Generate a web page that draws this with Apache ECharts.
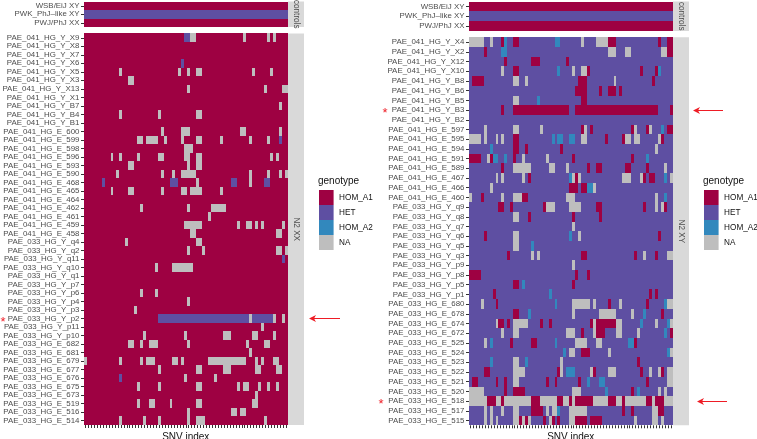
<!DOCTYPE html>
<html><head><meta charset="utf-8">
<style>html,body{margin:0;padding:0;background:#fff}#c{width:757px;height:439px}</style>
<script src="https://cdn.jsdelivr.net/npm/echarts@6/dist/echarts.min.js"></script>
</head><body><div id="c"></div>
<script>
const genotypes = ['HOM_A1','HET','HOM_A2','NA'];
const genoColors = ['#9E0142','#5E4FA2','#3288BD','#BEBEBE'];
const columnCount = 69;
const controlRowsLeft = ['WSB/EiJ XY','PWK_PhJ\u2013like XY','PWJ/PhJ XX'];
const controlValues = [0,1,0];

// run codes: A = HOM_A1, H = HET, B = HOM_A2, N = NA; "N34-35" = columns 34..35
const leftRows = ['PAE_041_HG_Y_X9','PAE_041_HG_Y_X8','PAE_041_HG_Y_X7','PAE_041_HG_Y_X6','PAE_041_HG_Y_X5','PAE_041_HG_Y_X3','PAE_041_HG_Y_X13','PAE_041_HG_Y_X1','PAE_041_HG_Y_B7','PAE_041_HG_Y_B4','PAE_041_HG_Y_B1','PAE_041_HG_E_600','PAE_041_HG_E_599','PAE_041_HG_E_598','PAE_041_HG_E_596','PAE_041_HG_E_593','PAE_041_HG_E_590','PAE_041_HG_E_468','PAE_041_HG_E_465','PAE_041_HG_E_464','PAE_041_HG_E_462','PAE_041_HG_E_461','PAE_041_HG_E_459','PAE_041_HG_E_458','PAE_033_HG_Y_q4','PAE_033_HG_Y_q2','PAE_033_HG_Y_q11','PAE_033_HG_Y_q10','PAE_033_HG_Y_q1','PAE_033_HG_Y_p7','PAE_033_HG_Y_p6','PAE_033_HG_Y_p4','PAE_033_HG_Y_p3','PAE_033_HG_Y_p2','PAE_033_HG_Y_p11','PAE_033_HG_Y_p10','PAE_033_HG_E_682','PAE_033_HG_E_681','PAE_033_HG_E_679','PAE_033_HG_E_677','PAE_033_HG_E_676','PAE_033_HG_E_675','PAE_033_HG_E_673','PAE_033_HG_E_519','PAE_033_HG_E_516','PAE_033_HG_E_514'];
const leftRuns = [
'H34-35 N36-37 N54 N62 N64','','','H33','N12 N32 N35 N38-39 N57 N63','N15-16','N35 N61 N67-68','','N66','N12 N25 N38-39','',
'N26 N33-35 N53-54 N66','N18-19 N21-24 N27 N33 N38-39 N46 N56 N62 H66','N34-36','N9 N12 N18 N25-26 N34-35 N38-39 N63 N65','N15-16 N35 N38-39','N11 N26 N30 N33-37 N56 N62 N66 N68','H6 H29-31 N38 H50-51 N56 H61-62','N9 N15-16 N26 N33-34 N36-39 N46','','N19 N35 N43-47','N42','N34-39 N52 N55-56 N58 N60 N67','N36-37 N65-66',
'N14 N38-39','N35 N40 N65-66 N68','H67','N24 N30-36','','','N19 N24','N35','N17','H25-55 N56 H57-63 N64 N67','N60','N20 N34 N47-49 N57-58 N64',
'N15-16 N19 N22-24 N35 N55 N61-62','N56','N0 N12 N19 N21-23 N30-31 N33 N42-54 N58 N60 N64-65','N25 N38-39 N47-49 N58-59 N65-66','H12 N34 N44','N18 N25 N38-39 N52 N54-55 N59 N62 N65','N58','N18 N22-23 N29 N38-39 N57-58','N35 N50-51 N53-54','N12 N20 N25 N35 N38-40 N61'
];
const rightRows = ['PAE_041_HG_Y_X4','PAE_041_HG_Y_X2','PAE_041_HG_Y_X12','PAE_041_HG_Y_X10','PAE_041_HG_Y_B8','PAE_041_HG_Y_B6','PAE_041_HG_Y_B5','PAE_041_HG_Y_B3','PAE_041_HG_Y_B2','PAE_041_HG_E_597','PAE_041_HG_E_595','PAE_041_HG_E_594','PAE_041_HG_E_591','PAE_041_HG_E_589','PAE_041_HG_E_467','PAE_041_HG_E_466','PAE_041_HG_E_460','PAE_033_HG_Y_q9','PAE_033_HG_Y_q8','PAE_033_HG_Y_q7','PAE_033_HG_Y_q6','PAE_033_HG_Y_q5','PAE_033_HG_Y_q3','PAE_033_HG_Y_p9','PAE_033_HG_Y_p8','PAE_033_HG_Y_p5','PAE_033_HG_Y_p1','PAE_033_HG_E_680','PAE_033_HG_E_678','PAE_033_HG_E_674','PAE_033_HG_E_672','PAE_033_HG_E_525','PAE_033_HG_E_524','PAE_033_HG_E_523','PAE_033_HG_E_522','PAE_033_HG_E_521','PAE_033_HG_E_520','PAE_033_HG_E_518','PAE_033_HG_E_517','PAE_033_HG_E_515'];
const rightRuns = [
'N0-4 N7 A11 B12 A15-16 B29-30 N38 N43-46 A47-49 A64 A67-68','A5 B11-12 N47-49 N53-54 N65-66 A67-68','A12 A21-23 A33','N11 A15-16 B30 N35 N38-39 A40 A58 A63 B64','A1-4 N15-16 N19 A37-39 N49 A62','A36-39 A44 A47-49 A51','N15-16 B23 A38-39','A11 A15-33 A36-63 A68','',
'N5 N15-16 N24 A38 N39 A41 A55 N56 A60 N61 B65 A67-68','N0-3 N5 N9 N11 A15-16 B28 B30-31 B34-35 N38-39 A46 A52 N53-54 N56-57 N64 A65','B7 A15-16 A19 A31 N63','A0-3 N6 A7 B8-9 B12 A15 N18 N26 A35 A55 B60','A11 N15-20 N27-28 N33 A40 A43-44 A53-54 A60 N66','N9 N11 N18 A20 B34 N35 A36 N37 N52-54 N58 A59 A61-62 B66 N68','N7 A34-36 A38-39 B40-41 N42','N0 A4 N11 N15-17 A18-19 N33-35 N63 B66',
'A10-11 A14 A25 N26-28 N34-37 A43-44 A59 N63 N65 A66','N15-16 A20 A35 A44','N35','A5 N15-16 B34 N37 A64','N15-16 B21','A13 N21 N23 A38-39 A56 N59 A63 N67-68','N35','A0-3 A36 A40','A15-16 B18 A35','A8 B27 A61 A63',
'N4 A9 B29 N35-40 N42 A47 N51 A60 B66 N67-68','A15-16 B20 N35 N44-49 N55 B59 A65','N9 A10-11 A13 N15-19 A24 A27 A41 N42 A43-49 N50-51 B58 N63 B67 N68','N11 N15-16 N33-35 A38 N42 A43-45 N50-51 N57 B66 A68','N5 B7 A14 A21-22 B29 N36-39 N43-44 B54-55 A56','B32 N34-35 A38-40 N47 B67 N68','B7 N15-16 B19 N31 A57','A5-6 N15-18 A30 N31 B33-35 N41 A42 N47-49 A58 N61 N64 A65 N67-68','A1-2 A9 A12 N15-16 A26 A29 A37 B40 B44-45 A60 N67-68','N0-4 A12 A15-18 N35-37 B46 A55 B57 N64 N66',
'N0-5 A6-8 N9-10 A11 N12-20 A21-23 N24-29 A30-31 N32-33 A34 N35 A36-41 N42-46 A47-49 N50-51 A52 N53-59 A60-61 N62 A63-65 N66-68','N5 N7 N11 N15-16 A21-24 N26 N28-29 B30 N34-39 A52 A55 N62-63 A64-65','N5 N7 N9 N15-16 A17 N18 A19 N20 A25 N27 A28 A30 N34-35 A36-39 A41-44 N56 N62-63 N65'
];

function expand(runs, base){
  const d=[];
  runs.forEach((s,r)=>{
    const row=new Array(columnCount).fill(base);
    s.split(' ').filter(Boolean).forEach(t=>{
      const code={A:0,H:1,B:2,N:3}[t[0]];
      const [a,b]=t.slice(1).split('-').map(Number);
      for(let c=a;c<=(b===undefined?a:b);c++) row[c]=code;
    });
    row.forEach((v,c)=>d.push([c,r,v]));
  });
  return d;
}
function controlData(){
  const d=[];
  controlValues.forEach((v,r)=>{for(let c=0;c<columnCount;c++)d.push([c,r,v]);});
  return d;
}
// one pixel-snapped cell, placed through the axes of its grid
function renderCell(params,api){
  const [cx,cy]=api.coord([api.value(0),api.value(1)]);
  const [w,h]=api.size([1,1]);
  const x0=Math.round(cx-w/2),x1=Math.round(cx+w/2),y0=Math.round(cy-h/2),y1=Math.round(cy+h/2);
  return {type:'rect',shape:{x:x0,y:y0,width:x1-x0,height:y1-y0},style:{fill:api.visual('color')},silent:true};
}
const cols=Array.from({length:columnCount},(_,i)=>String(i));
const FONT='"Liberation Sans",Arial,sans-serif';
const labelColor='#4D4D4D', tickColor='#333333', stripColor='#D9D9D9', red='#EE1C25';
const layout=[
 {left:84,width:203.5,ctop:1.5,ch:25.5,mtop:33.5,mh:391.5,rows:leftRows,runs:leftRuns,base:0},
 {left:469,width:203.5,ctop:1.5,ch:29.5,mtop:37.3,mh:388,rows:rightRows,runs:rightRuns,base:1}
];
const grid=[],xAxis=[],yAxis=[],series=[],graphic=[];
layout.forEach((p,i)=>{
  const gc=grid.length;
  grid.push({left:p.left,top:p.ctop,width:p.width,height:p.ch,outerBoundsMode:'none'});
  grid.push({left:p.left,top:p.mtop,width:p.width,height:p.mh,outerBoundsMode:'none'});
  const yLab={color:labelColor,fontSize:7.9,fontFamily:FONT,margin:4.5,interval:0};
  const yTick={show:true,length:3,alignWithLabel:true,interval:0,lineStyle:{color:tickColor,width:1}};
  xAxis.push({type:'category',gridIndex:gc,data:cols,axisLine:{show:false},axisTick:{show:false},axisLabel:{show:false}});
  xAxis.push({type:'category',gridIndex:gc+1,data:cols,axisLine:{show:false},
    axisTick:{show:true,length:3,alignWithLabel:true,interval:0,lineStyle:{color:tickColor,width:1}},
    axisLabel:{show:false},name:'SNV index',nameLocation:'middle',nameGap:7,
    nameTextStyle:{color:'#111',fontSize:10,fontFamily:FONT}});
  yAxis.push({type:'category',gridIndex:gc,inverse:true,data:controlRowsLeft,axisLine:{show:false},axisTick:yTick,axisLabel:yLab});
  yAxis.push({type:'category',gridIndex:gc+1,inverse:true,data:p.rows,axisLine:{show:false},axisTick:yTick,axisLabel:yLab});
  series.push({type:'custom',renderItem:renderCell,xAxisIndex:gc,yAxisIndex:gc,data:controlData(),encode:{x:0,y:1},silent:true,progressive:0});
  series.push({type:'custom',renderItem:renderCell,xAxisIndex:gc+1,yAxisIndex:gc+1,data:expand(p.runs,p.base),encode:{x:0,y:1},silent:true,progressive:0});
  const sx=p.left+p.width+0.5;
  [[p.ctop,p.ch,'controls'],[p.mtop,p.mh,i===0?'N2 XX':'N2 XY']].forEach(([t,h,lab],k)=>{
    graphic.push({type:'rect',silent:true,shape:{x:sx,y:t,width:16,height:h},style:{fill:stripColor}});
    graphic.push({type:'text',silent:true,x:sx+8,y:t+h/2,rotation:-Math.PI/2,
      style:{text:lab,fill:'#4D4D4D',fontSize:8.2,fontFamily:FONT,align:'center',verticalAlign:'middle'}});
  });
});
[318,703].forEach(x=>graphic.push({type:'text',silent:true,x:x,y:181,
  style:{text:'genotype',fill:'#111',fontSize:10,fontFamily:FONT,align:'left',verticalAlign:'middle'}}));
function arrow(x0,x1,y){
  graphic.push({type:'line',silent:true,shape:{x1:x0+3,y1:y,x2:x1,y2:y},style:{stroke:red,lineWidth:1}});
  graphic.push({type:'polygon',silent:true,shape:{points:[[x0,y],[x0+7,y-3.5],[x0+5,y],[x0+7,y+3.5]]},style:{fill:red}});
}
arrow(309,340,318.5); arrow(693,723,110.5); arrow(697,727,401.5);
[[3,322],[385,113.5],[381,404]].forEach(([x,y])=>graphic.push({type:'text',silent:true,x:x,y:y,
  style:{text:'*',fill:red,fontSize:13,fontFamily:FONT,align:'center',verticalAlign:'middle'}}));
const pieces=genotypes.map((g,i)=>({value:i,label:g,color:genoColors[i]}));
const vm=(left,idx)=>({type:'piecewise',seriesIndex:idx,dimension:2,left:left,top:190,orient:'vertical',itemWidth:14.6,itemHeight:15,itemGap:0,itemSymbol:'rect',
  inverse:true,align:'left',textGap:5.5,padding:0,selectedMode:false,hoverLink:false,pieces:pieces,
  textStyle:{color:'#111',fontSize:8.2,fontFamily:FONT}});
const chart=echarts.init(document.getElementById('c'),null,{renderer:'canvas'});
chart.setOption({animation:false,backgroundColor:'#fff',tooltip:{show:false},grid,xAxis,yAxis,series,
  visualMap:[vm(319,[0,1]),vm(704,[2,3])],graphic});
</script></body></html>
